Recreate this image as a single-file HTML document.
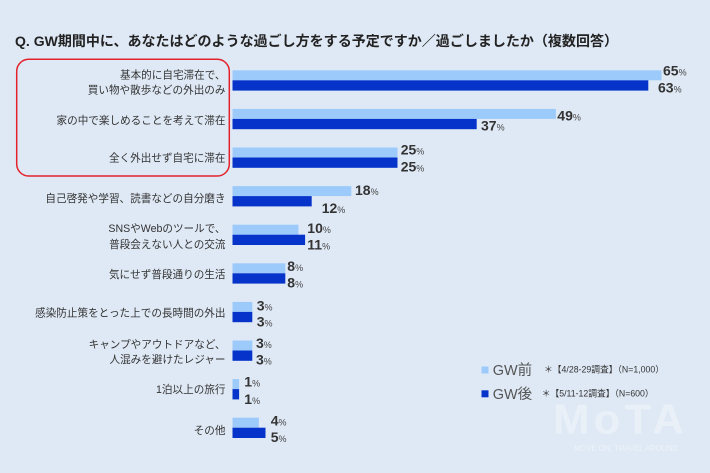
<!DOCTYPE html>
<html><head><meta charset="utf-8"><style>
html,body{margin:0;padding:0;background:#dfe9f5;}
svg{display:block;}
text{font-family:"Liberation Sans","Noto Sans CJK JP",sans-serif;}
.cat{font-size:10.6px;fill:#333;text-anchor:end;}
.num{font-size:14px;font-weight:bold;fill:#333;}
.pc{font-size:9px;font-weight:normal;fill:#444;}
.lb{fill:#9ccbfb;}
.db{fill:#0633c9;}
</style></head><body>
<svg width="710" height="473" viewBox="0 0 710 473" xmlns="http://www.w3.org/2000/svg">
<rect x="0" y="0" width="710" height="473" fill="#dfe9f5"/>
<text x="15" y="46" font-size="14" font-weight="bold" fill="#222" textLength="603" lengthAdjust="spacingAndGlyphs">Q. GW期間中に、あなたはどのような過ごし方をする予定ですか／過ごしましたか（複数回答）</text>
<rect x="16.7" y="59.3" width="212.6" height="116.7" rx="12" ry="12" fill="none" stroke="#e4222b" stroke-width="1.5"/>

<!-- bars -->
<rect class="lb" x="232.5" y="70.3" width="429" height="10"/>
<rect class="db" x="232.5" y="80.3" width="415.8" height="10.3"/>
<rect class="lb" x="232.5" y="108.9" width="323.4" height="10"/>
<rect class="db" x="232.5" y="118.9" width="244.2" height="10.3"/>
<rect class="lb" x="232.5" y="147.5" width="165" height="10"/>
<rect class="db" x="232.5" y="157.5" width="165" height="10.3"/>
<rect class="lb" x="232.5" y="186.1" width="118.8" height="10"/>
<rect class="db" x="232.5" y="196.1" width="79.2" height="10.3"/>
<rect class="lb" x="232.5" y="224.7" width="66" height="10"/>
<rect class="db" x="232.5" y="234.7" width="72.6" height="10.3"/>
<rect class="lb" x="232.5" y="263.3" width="52.8" height="10"/>
<rect class="db" x="232.5" y="273.3" width="52.8" height="10.3"/>
<rect class="lb" x="232.5" y="301.9" width="19.8" height="10"/>
<rect class="db" x="232.5" y="311.9" width="19.8" height="10.3"/>
<rect class="lb" x="232.5" y="340.5" width="19.8" height="10"/>
<rect class="db" x="232.5" y="350.5" width="19.8" height="10.3"/>
<rect class="lb" x="232.5" y="379.1" width="6.6" height="10"/>
<rect class="db" x="232.5" y="389.1" width="6.6" height="10.3"/>
<rect class="lb" x="232.5" y="417.7" width="26.4" height="10"/>
<rect class="db" x="232.5" y="427.7" width="33" height="10.3"/>

<!-- category labels -->
<text class="cat" x="225.5" y="78.3">基本的に自宅滞在で、</text>
<text class="cat" x="225.5" y="93.3">買い物や散歩などの外出のみ</text>
<text class="cat" x="225.5" y="124">家の中で楽しめることを考えて滞在</text>
<text class="cat" x="225.5" y="161.7">全く外出せず自宅に滞在</text>
<text class="cat" x="225.5" y="202">自己啓発や学習、読書などの自分磨き</text>
<text class="cat" x="225.5" y="232">SNSやWebのツールで、</text>
<text class="cat" x="225.5" y="248">普段会えない人との交流</text>
<text class="cat" x="225.5" y="278">気にせず普段通りの生活</text>
<text class="cat" x="225.5" y="316.5">感染防止策をとった上での長時間の外出</text>
<text class="cat" x="225.5" y="348">キャンプやアウトドアなど、</text>
<text class="cat" x="225.5" y="363">人混みを避けたレジャー</text>
<text class="cat" x="225.5" y="393">1泊以上の旅行</text>
<text class="cat" x="225.5" y="434">その他</text>

<!-- value labels -->
<text class="num" x="663" y="75.3">65<tspan class="pc">%</tspan></text>
<text class="num" x="658" y="92.3">63<tspan class="pc">%</tspan></text>
<text class="num" x="557.3" y="120.3">49<tspan class="pc">%</tspan></text>
<text class="num" x="481" y="130.7">37<tspan class="pc">%</tspan></text>
<text class="num" x="400.7" y="154.3">25<tspan class="pc">%</tspan></text>
<text class="num" x="400.7" y="171.3">25<tspan class="pc">%</tspan></text>
<text class="num" x="355" y="195">18<tspan class="pc">%</tspan></text>
<text class="num" x="321.7" y="213">12<tspan class="pc">%</tspan></text>
<text class="num" x="307.3" y="233">10<tspan class="pc">%</tspan></text>
<text class="num" x="307.3" y="249.7">11<tspan class="pc">%</tspan></text>
<text class="num" x="287.3" y="271">8<tspan class="pc">%</tspan></text>
<text class="num" x="287.3" y="287.7">8<tspan class="pc">%</tspan></text>
<text class="num" x="256.7" y="310.5">3<tspan class="pc">%</tspan></text>
<text class="num" x="256.7" y="326.3">3<tspan class="pc">%</tspan></text>
<text class="num" x="256" y="347.8">3<tspan class="pc">%</tspan></text>
<text class="num" x="256" y="364.5">3<tspan class="pc">%</tspan></text>
<text class="num" x="244.3" y="386.7">1<tspan class="pc">%</tspan></text>
<text class="num" x="244.3" y="404">1<tspan class="pc">%</tspan></text>
<text class="num" x="270.7" y="425.7">4<tspan class="pc">%</tspan></text>
<text class="num" x="270.7" y="442.2">5<tspan class="pc">%</tspan></text>

<!-- watermark -->
<text x="553" y="433.3" font-size="42" font-weight="bold" fill="#ffffff" fill-opacity="0.33" letter-spacing="4" textLength="135" lengthAdjust="spacingAndGlyphs">MoTA</text>
<text x="574" y="451" font-size="8" fill="#ffffff" fill-opacity="0.4" textLength="104" lengthAdjust="spacingAndGlyphs">MOVE ON, TRAVEL AROUND</text>

<!-- legend -->
<rect x="481.5" y="366.5" width="7" height="7" fill="#9ccbfb"/>
<text x="492.7" y="375" font-size="14.5" fill="#555">GW前</text>
<rect x="481.5" y="390.3" width="7" height="7" fill="#0633c9"/>
<text x="492.7" y="399" font-size="14.5" fill="#555">GW後</text>
<text x="544" y="372.3" font-size="9" fill="#333" textLength="120" lengthAdjust="spacingAndGlyphs">＊【4/28-29調査】（N=1,000）</text>
<text x="541.7" y="396.6" font-size="9" fill="#333" textLength="112" lengthAdjust="spacingAndGlyphs">＊【5/11-12調査】（N=600）</text>
</svg>
</body></html>
